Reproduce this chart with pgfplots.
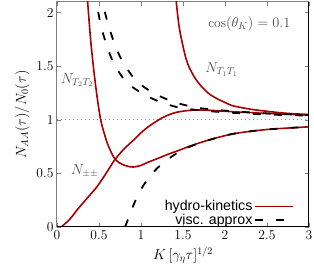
\documentclass[border=0pt]{standalone}
\usepackage{fontspec}
\usepackage{pgfplots}
\pgfplotsset{compat=1.18}
\usetikzlibrary{calc}
\newfontfamily\lsans{Liberation Sans}
\definecolor{dred}{RGB}{168,0,0}
\definecolor{fgray}{RGB}{128,128,128}
\begin{document}
\begin{tikzpicture}[font=\fontsize{13.6}{16}\selectfont]
\begin{axis}[name=ax,
  scale only axis, width=252pt, height=225pt,
  xmin=0, xmax=3, ymin=0, ymax=2.1,
  xtick={0,0.5,1,1.5,2,2.5,3},
  ytick={0,0.5,1,1.5,2},
  xticklabels={0,0.5,1,1.5,2,2.5,3},
  yticklabels={0,0.5,1,1.5,2},
  tick align=inside, major tick length=4pt,
  tick style={fgray, line width=0.6pt},
  axis line style={fgray, line width=1pt},
  xlabel={$K\,[\gamma_\eta\tau]^{1/2}$},
  ylabel={$N_{AA}(\tau)/N_0(\tau)$},
  legend style={draw=none, fill=none, inner sep=0pt, at={(rel axis cs:0.942,-0.006)}, anchor=south east,
     font=\lsans\fontsize{14.2}{16}\selectfont, row sep=-2pt},
  legend cell align=right, legend plot pos=right,
  legend image code/.code={\draw[#1] (0pt,0pt) -- (38pt,0pt);},
]
\addplot[color={rgb,255:red,150;green,150;blue,150}, dash pattern=on 1.4pt off 2.6pt, line width=0.8pt, forget plot] coordinates {(0,1) (3,1)};
\addplot[dred, line width=1.6pt, smooth] coordinates {
(0.355,2.2) (0.365,2.1) (0.40,1.75) (0.44,1.45) (0.48,1.2) (0.52,1.0) (0.56,0.88) (0.60,0.78) (0.65,0.69) (0.69,0.635) (0.74,0.60) (0.79,0.58) (0.85,0.565) (0.91,0.56) (1.0,0.575) (1.07,0.60) (1.2,0.64) (1.31,0.675) (1.45,0.715) (1.6,0.76) (1.8,0.81) (2.1,0.87) (2.5,0.91) (3.0,0.935)};
\addlegendentry{hydro-kinetics}
\addplot[black, line width=1.8pt, dash pattern=on 8pt off 13pt, smooth] coordinates {
(0.81,0) (0.87,0.12) (0.93,0.24) (1.03,0.39) (1.17,0.53) (1.3,0.62) (1.45,0.70) (1.6,0.755) (1.8,0.81) (2.1,0.87) (2.5,0.91) (3.0,0.935)};
\addlegendentry{visc. approx}
\addplot[dred, line width=1.6pt, smooth, forget plot] coordinates {
(0.05,0) (0.15,0.07) (0.24,0.16) (0.36,0.27) (0.48,0.38) (0.6,0.52) (0.69,0.63) (0.8,0.73) (0.91,0.81) (1.03,0.9) (1.15,0.97) (1.28,1.03) (1.42,1.07) (1.6,1.09) (1.8,1.09) (2.0,1.08) (2.5,1.06) (3.0,1.045)};
\addplot[dred, line width=1.6pt, smooth, forget plot] coordinates {
(1.41,2.2) (1.42,2.1) (1.46,1.84) (1.54,1.56) (1.62,1.42) (1.70,1.33) (1.80,1.25) (1.90,1.20) (2.02,1.155) (2.10,1.13) (2.3,1.10) (2.5,1.08) (2.75,1.06) (3.0,1.05)};
\addplot[black, line width=1.8pt, dash pattern=on 8pt off 13pt, smooth, forget plot] coordinates {
(0.45,2.2) (0.47,2.1) (0.52,1.89) (0.59,1.70) (0.68,1.52) (0.83,1.35) (1.03,1.24) (1.25,1.16) (1.48,1.11) (1.7,1.09) (2.0,1.07) (2.5,1.05) (3.0,1.04)};
\addplot[black, line width=1.8pt, dash pattern=on 8pt off 13pt, smooth, forget plot] coordinates {
(0.52,2.2) (0.54,2.1) (0.61,1.89) (0.69,1.70) (0.79,1.53) (0.95,1.36) (1.15,1.25) (1.38,1.17) (1.62,1.12) (1.8,1.10) (2.1,1.08) (2.5,1.06) (3.0,1.045)};
\node[fgray!60!black] at (axis cs:2.29,1.9) {$\cos(\theta_K)=0.1$};
\node[fgray!60!black] at (axis cs:1.96,1.47) {$N_{T_1T_1}$};
\node[fgray!60!black] at (axis cs:0.24,1.37) {$N_{T_2T_2}$};
\node[fgray!60!black] at (axis cs:0.33,0.52) {$N_{\pm\pm}$};
\end{axis}
\draw[black, line width=1pt] (ax.south west) -- (ax.south east) -- (ax.north east);
\pgfresetboundingbox
\path[use as bounding box] ($(ax.south west)+(-57pt,-45pt)$) rectangle ($(ax.north east)+(5pt,2pt)$);
\end{tikzpicture}
\end{document}
